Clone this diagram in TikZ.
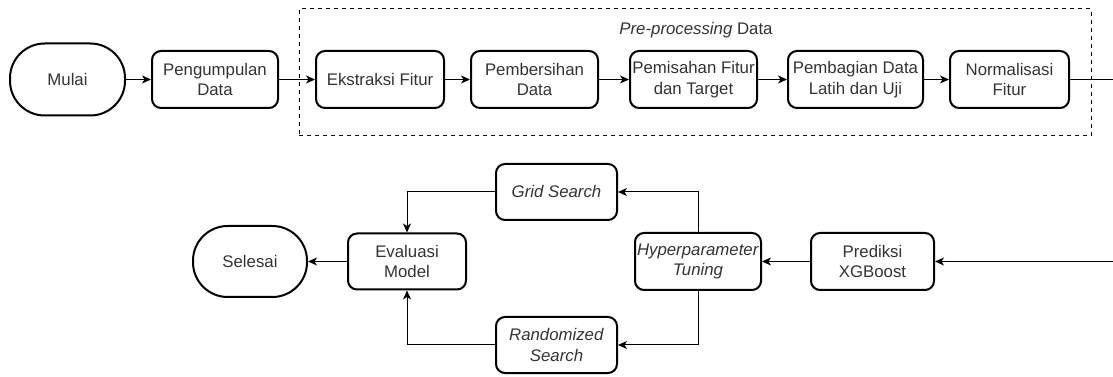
\documentclass[tikz,border=0pt]{standalone}
\usepackage{fontspec}
\setmainfont{Liberation Sans}
\usetikzlibrary{arrows.meta}
\definecolor{txt}{HTML}{333333}
\tikzset{
  proc/.style={draw=black, line width=1.5pt, rounded corners=6.75pt, minimum height=42.75pt, align=center, inner sep=0pt, text=txt, font=\fontsize{12.6pt}{15.5pt}\selectfont},
  term/.style={draw=black, line width=1.5pt, rounded corners=26pt, minimum height=54pt, minimum width=86.25pt, align=center, inner sep=0pt, text=txt, font=\fontsize{12.6pt}{15.5pt}\selectfont},
  conn/.style={draw=black, line width=0.75pt, -{Stealth[length=6.75pt, width=6pt, inset=1.9pt]}},
}
\begin{document}
\begin{tikzpicture}[x=0.75pt, y=-0.75pt]
\useasboundingbox (0,0) rectangle (1113,377);
% group box
\node[draw=black, dashed, line width=0.75pt, minimum width=594pt, minimum height=95.25pt, inner sep=0pt] (grp) at (695,72.5) {};
\node[text=txt, font=\fontsize{12.6pt}{15.5pt}\selectfont] (grplabel) at (696,30) {\textit{Pre-processing} Data};
% top row
\node[term] (mulai) at (67.5,79.5) {Mulai};
\node[proc, minimum width=94.5pt] (kumpul) at (215,79.5) {Pengumpulan\\Data};
\node[proc, minimum width=96pt] (ekstrak) at (380,79.5) {Ekstraksi Fitur};
\node[proc, minimum width=95.25pt] (bersih) at (534.5,79.5) {Pembersihan\\Data};
\node[proc, minimum width=95.25pt] (pisah) at (693.5,79.5) {Pemisahan Fitur\\dan Target};
\node[proc, minimum width=101.25pt] (bagi) at (855.5,79.5) {Pembagian Data\\Latih dan Uji};
\node[proc, minimum width=89.25pt] (norm) at (1009.5,79.5) {Normalisasi\\Fitur};
% bottom row
\node[term, minimum width=85.5pt, minimum height=53.25pt] (selesai) at (250,261.5) {Selesai};
\node[proc, minimum width=88.5pt, minimum height=42pt] (eval) at (407,261.5) {Evaluasi\\Model};
\node[proc, minimum width=90.75pt, minimum height=42pt] (grid) at (556.5,192) {\textit{Grid Search}};
\node[proc, minimum width=90.75pt, minimum height=42pt] (random) at (556.5,345) {\textit{Randomized}\\\textit{Search}};
\node[proc, minimum width=94.5pt] (hyper) at (698,261.5) {\textit{Hyperparameter}\\\textit{Tuning}};
\node[proc, minimum width=92.25pt] (prediksi) at (872.5,261.5) {Prediksi\\XGBoost};
\coordinate (c1) at (1125,170);
% connectors
\draw[conn] (mulai) -- (kumpul);
\draw[conn] (kumpul) -- (ekstrak);
\draw[conn] (ekstrak) -- (bersih);
\draw[conn] (bersih) -- (pisah);
\draw[conn] (pisah) -- (bagi);
\draw[conn] (bagi) -- (norm);
\draw[conn] (norm.east) -| (c1) |- (prediksi.east);
\draw[conn] (prediksi) -- (hyper);
\draw[conn] (hyper.north) |- (grid.east);
\draw[conn] (hyper.south) |- (random.east);
\draw[conn] (grid.west) -| (eval.north);
\draw[conn] (random.west) -| (eval.south);
\draw[conn] (eval) -- (selesai);
\end{tikzpicture}
\end{document}
